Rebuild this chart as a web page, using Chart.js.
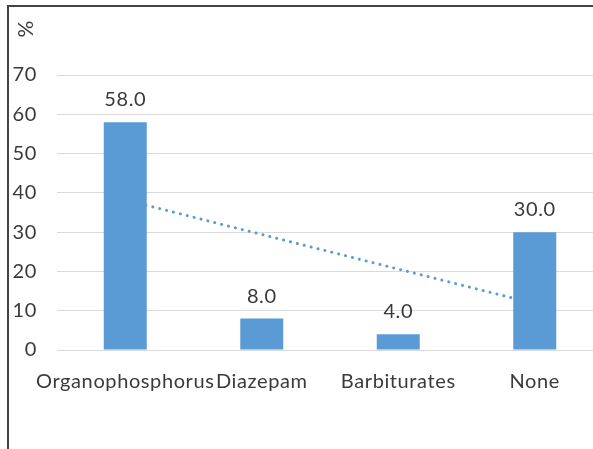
<!DOCTYPE html>
<html>
<head>
<meta charset="utf-8">
<script src="https://cdn.jsdelivr.net/npm/chart.js@4"></script>
<style>
  html, body { margin: 0; padding: 0; background: #fff; overflow: hidden; }
  #wrap { position: absolute; left: 0; top: 0; width: 603px; height: 449px; }
  #frame { position: absolute; left: 7px; top: 5px; width: 600px; height: 460px;
           border-left: 2px solid #444; border-top: 2px solid #444; pointer-events: none; }
</style>
</head>
<body>
<div id="wrap"><canvas id="grafica"></canvas></div>
<div id="frame"></div>
<script>
const categorias = ['Organophosphorus', 'Diazepam', 'Barbiturates', 'None'];
const porcentajes = [58.0, 8.0, 4.0, 30.0];
// linea de tendencia (lineal)
const tendencia = [38.2, 29.4, 20.6, 11.8];
const ticksY = [0, 10, 20, 30, 40, 50, 60, 70];

const azul = '#5B9BD5';
const gris = '#3a3a3a';
const fuente = 'Lato, "Open Sans", sans-serif';

// espaciado de letras parecido al de Excel
const espaciado = {
  id: 'espaciado',
  beforeDraw(chart) { chart.ctx.letterSpacing = '0.6px'; }
};

// etiquetas de valor encima de las barras y titulo "%" girado
const extras = {
  id: 'extras',
  afterDatasetsDraw(chart) {
    const ctx = chart.ctx;
    const meta = chart.getDatasetMeta(0);
    ctx.save();
    ctx.fillStyle = gris;
    ctx.font = '20px ' + fuente;
    ctx.textAlign = 'center';
    ctx.textBaseline = 'alphabetic';
    meta.data.forEach((bar, i) => {
      ctx.fillText(porcentajes[i].toFixed(1), bar.x, bar.y - 16);
    });
    ctx.translate(26, 29);
    ctx.rotate(-Math.PI / 2);
    ctx.textBaseline = 'middle';
    ctx.font = '21px ' + fuente;
    ctx.letterSpacing = '0px';
    ctx.fillText('%', 0, 0);
    ctx.restore();
  }
};

new Chart(document.getElementById('grafica'), {
  data: {
    labels: categorias,
    datasets: [
      {
        type: 'bar',
        data: porcentajes,
        backgroundColor: azul,
        borderWidth: 0,
        barPercentage: 0.315,
        categoryPercentage: 1,
        order: 0
      },
      {
        type: 'line',
        data: tendencia,
        borderColor: azul,
        borderWidth: 3,
        borderDash: [0.1, 7],
        borderCapStyle: 'round',
        pointRadius: 0,
        fill: false,
        order: 1
      }
    ]
  },
  options: {
    responsive: true,
    maintainAspectRatio: false,
    animation: false,
    layout: { padding: { top: 75, left: 0, right: 0, bottom: 0 } },
    plugins: { legend: { display: false }, tooltip: { enabled: false } },
    scales: {
      x: {
        grid: { display: false, drawTicks: false },
        border: { display: false },
        ticks: { color: gris, font: { family: fuente, size: 20 }, padding: 20, maxRotation: 0, autoSkip: false },
        afterFit: s => { s.height = 99; }
      },
      y: {
        min: 0,
        max: 70,
        afterBuildTicks: s => { s.ticks = ticksY.map(v => ({ value: v })); },
        grid: { color: '#d9d9d9', lineWidth: 1, drawTicks: false },
        border: { display: false },
        ticks: { color: gris, font: { family: fuente, size: 20 }, padding: 20 },
        afterFit: s => { s.width = 57; }
      }
    }
  },
  plugins: [espaciado, extras]
});
</script>
</body>
</html>
